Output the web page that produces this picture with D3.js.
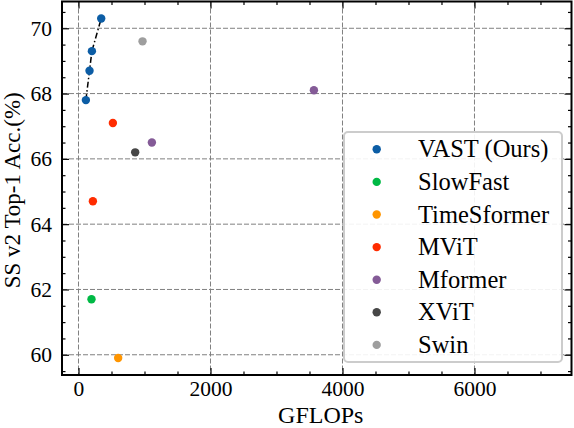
<!DOCTYPE html>
<html>
<head>
<meta charset="utf-8">
<script src="https://cdn.jsdelivr.net/npm/d3@7"></script>
<style>
  html, body { margin: 0; padding: 0; background: #fff; }
  svg { display: block; }
  text { font-family: "Liberation Serif", "Times New Roman", serif; fill: #000; }
</style>
</head>
<body>
<svg id="chart" width="574" height="428"></svg>
<script>
// ---- data ----
const models = ["VAST (Ours)", "SlowFast", "TimeSformer", "MViT", "Mformer", "XViT", "Swin"];
const colors = ["#0C5DA5", "#00B945", "#FF9500", "#FF2C00", "#845B97", "#474747", "#9e9e9e"];
const vastGflops = [112, 167, 203, 344];
const vastAcc = [67.8, 68.7, 69.3, 70.3];
const slowfastGflops = [197];
const slowfastAcc = [61.7];
const timesformerGflops = [601];
const timesformerAcc = [59.9];
const mvitGflops = [521, 218];
const mvitAcc = [67.1, 64.7];
const mformerGflops = [1112, 3567];
const mformerAcc = [66.5, 68.1];
const xvitGflops = [859];
const xvitAcc = [66.2];
const swinGflops = [970];
const swinAcc = [69.6];
const xTicks = [0, 2000, 4000, 6000];
const yTicks = [60, 62, 64, 66, 68, 70];
const xLabel = "GFLOPs";
const yLabel = "SS v2 Top-1 Acc.(%)";

const series = [
  {name: models[0], color: colors[0], xs: vastGflops, ys: vastAcc},
  {name: models[1], color: colors[1], xs: slowfastGflops, ys: slowfastAcc},
  {name: models[2], color: colors[2], xs: timesformerGflops, ys: timesformerAcc},
  {name: models[3], color: colors[3], xs: mvitGflops, ys: mvitAcc},
  {name: models[4], color: colors[4], xs: mformerGflops, ys: mformerAcc},
  {name: models[5], color: colors[5], xs: xvitGflops, ys: xvitAcc},
  {name: models[6], color: colors[6], xs: swinGflops, ys: swinAcc},
];

// ---- layout ----
const L = 62, R = 571.5, T = 1.5, B = 375;
const svg = d3.select("#chart");
const x = d3.scaleLinear().domain([-250, 7470]).range([L, R]);
const y = d3.scaleLinear().domain([59.38, 70.82]).range([B, T]);

const xMinor = d3.range(0, 7470, 500).filter(v => !xTicks.includes(v));
const yMinor = d3.range(59.5, 70.82, 0.5).filter(v => !yTicks.includes(v));

// grid
const grid = svg.append("g");
grid.selectAll("line.gx").data(xTicks).join("line")
  .attr("x1", d => x(d)).attr("x2", d => x(d)).attr("y1", T).attr("y2", B)
  .attr("stroke", "#808080").attr("stroke-width", 1).attr("stroke-dasharray", "5,2");
grid.selectAll("line.gy").data(yTicks).join("line")
  .attr("y1", d => y(d)).attr("y2", d => y(d)).attr("x1", L).attr("x2", R)
  .attr("stroke", "#808080").attr("stroke-width", 1).attr("stroke-dasharray", "5,2");

// axes (inward ticks on all sides)
const majorLen = 7, minorLen = 3.5;
function addAxis(axisGen, tx, ty) {
  return svg.append("g").attr("transform", `translate(${tx},${ty})`).call(axisGen)
    .attr("font-family", "'Liberation Serif', serif")
    .call(g => g.select(".domain").remove());
}
addAxis(d3.axisBottom(x).tickValues(xTicks).tickSize(-majorLen).tickPadding(6).tickFormat(d3.format("d")), 0, B);
addAxis(d3.axisBottom(x).tickValues(xMinor).tickSize(-minorLen).tickFormat(""), 0, B);
addAxis(d3.axisTop(x).tickValues(xTicks).tickSize(-majorLen).tickFormat(""), 0, T);
addAxis(d3.axisTop(x).tickValues(xMinor).tickSize(-minorLen).tickFormat(""), 0, T);
addAxis(d3.axisLeft(y).tickValues(yTicks).tickSize(-majorLen).tickPadding(10).tickFormat(d3.format("d")), L, 0);
addAxis(d3.axisLeft(y).tickValues(yMinor).tickSize(-minorLen).tickFormat(""), L, 0);
addAxis(d3.axisRight(y).tickValues(yTicks).tickSize(-majorLen).tickFormat(""), R, 0);
addAxis(d3.axisRight(y).tickValues(yMinor).tickSize(-minorLen).tickFormat(""), R, 0);
svg.selectAll(".tick line").attr("stroke", "#000").attr("stroke-width", 1.2);
svg.selectAll(".tick text").style("font-family", "'Liberation Serif', serif").style("font-size", "21.5px").attr("fill", "#000");

// spines
svg.append("rect").attr("x", L).attr("y", T).attr("width", R - L).attr("height", B - T)
  .attr("fill", "none").attr("stroke", "#000").attr("stroke-width", 2);

// VAST dash-dot line
svg.append("path")
  .datum(vastGflops.map((g, i) => [g, vastAcc[i]]))
  .attr("d", d3.line().x(d => x(d[0])).y(d => y(d[1])))
  .attr("fill", "none").attr("stroke", "#000").attr("stroke-width", 1.5)
  .attr("stroke-dasharray", "6,2.5,1.5,2.5");

// points
series.forEach(s => {
  svg.append("g").selectAll("circle").data(s.xs.map((g, i) => [g, s.ys[i]])).join("circle")
    .attr("cx", d => x(d[0])).attr("cy", d => y(d[1])).attr("r", 4.2)
    .attr("fill", s.color);
});

// legend
const lg = svg.append("g");
lg.append("rect").attr("x", 344).attr("y", 132).attr("width", 218).attr("height", 230)
  .attr("rx", 4).attr("fill", "#fff").attr("fill-opacity", 0.9)
  .attr("stroke", "#cccccc").attr("stroke-width", 2);
series.forEach((s, i) => {
  const cy = 149.3 + i * 32.6;
  lg.append("circle").attr("cx", 376.7).attr("cy", cy).attr("r", 4.2).attr("fill", s.color);
  lg.append("text").attr("x", 418).attr("y", cy).attr("dy", "0.33em")
    .style("font-size", "24.5px").text(s.name);
});

// axis labels
svg.append("text").attr("x", (L + R) / 2 + 4).attr("y", 422.5).attr("text-anchor", "middle")
  .style("font-size", "24px").text(xLabel);
svg.append("text").attr("transform", `translate(20,${(T + B) / 2 + 2}) rotate(-90)`)
  .attr("text-anchor", "middle").style("font-size", "23px").text(yLabel);
</script>
</body>
</html>
